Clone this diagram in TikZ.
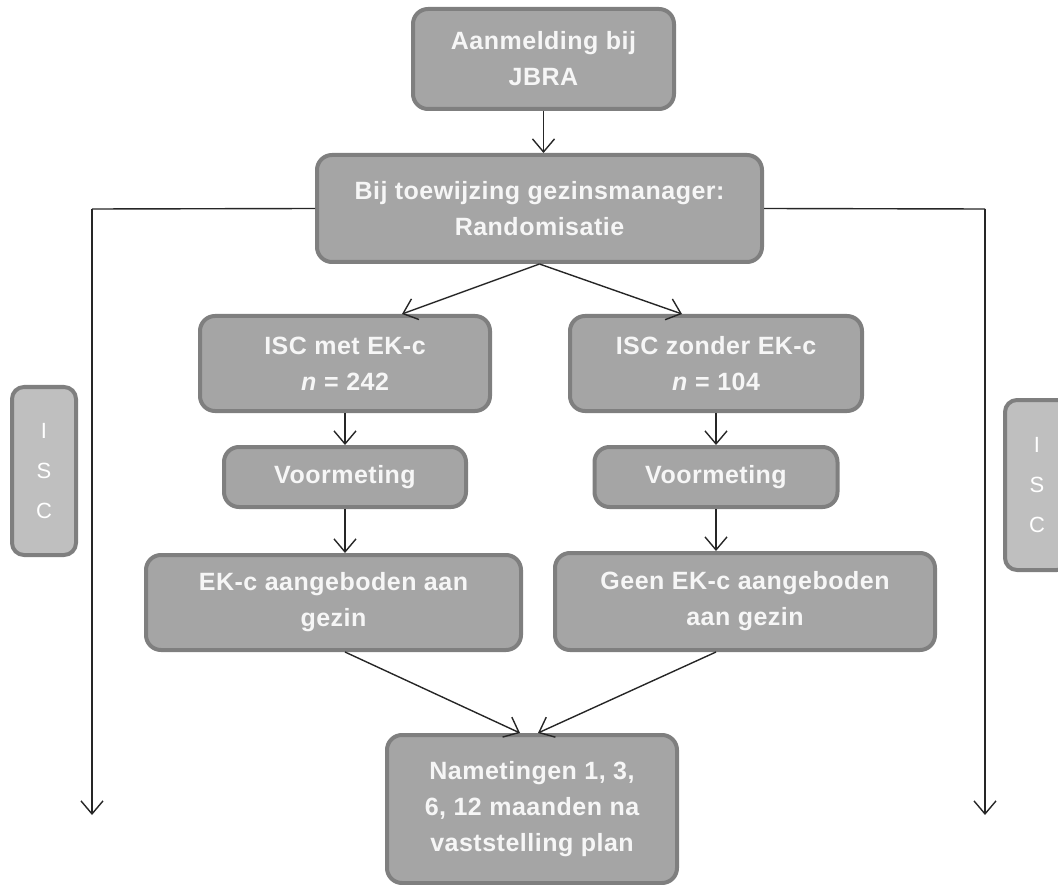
\documentclass[tikz,border=0pt]{standalone}
\usepackage{fontspec}
\setmainfont{Liberation Sans}[LetterSpace=2]
\usetikzlibrary{arrows.meta,calc}
\definecolor{boxfill}{HTML}{A5A5A5}
\definecolor{boxline}{HTML}{7F7F7F}
\definecolor{sidefill}{HTML}{BFBFBF}
\definecolor{txt}{HTML}{F6F6F6}
\begin{document}
\begin{tikzpicture}[x=1pt,y=-1pt,
  box/.style={draw=boxline,line width=4pt,fill=boxfill,rounded corners=15pt,
    text=txt,align=center,inner sep=0pt,
    font=\fontsize{25}{36}\selectfont\bfseries},
  sidebox/.style={draw=boxline,line width=4pt,fill=sidefill,rounded corners=12pt,
    text=white,align=center,inner sep=0pt,
    font=\fontsize{22}{40}\selectfont},
  conn/.style={line width=1.4pt,draw=black!85,
    -{Straight Barb[length=13pt,width=22pt,line width=1.4pt]}},
  plain/.style={line width=1.4pt,draw=black!85}]
\useasboundingbox (0,0) rectangle (1058,885);
\clip (0,0) rectangle (1058,885);
\node[box,minimum width=261pt,minimum height=100pt] (top) at (543.5,59) {Aanmelding bij\\JBRA};
\node[box,minimum width=445pt,minimum height=107pt] (rand) at (539.5,208.5) {Bij toewijzing gezinsmanager:\\Randomisatie};
\node[box,minimum width=290pt,minimum height=95pt] (iscmet) at (345,363.5) {ISC met EK-c\\\textit{n} = 242};
\node[box,minimum width=292pt,minimum height=95pt] (isczonder) at (716,363.5) {ISC zonder EK-c\\\textit{n} = 104};
\node[box,minimum width=242pt,minimum height=60pt] (voor1) at (345,477) {Voormeting};
\node[box,minimum width=243pt,minimum height=60pt] (voor2) at (716,477) {Voormeting};
\node[box,minimum width=375pt,minimum height=95pt] (ek1) at (333.5,602.5) {EK-c aangeboden aan\\gezin};
\node[box,minimum width=380pt,minimum height=97pt] (ek2) at (745,601.5) {Geen EK-c aangeboden\\aan gezin};
\node[box,minimum width=290pt,minimum height=148pt] (bottom) at (532,809) {Nametingen 1, 3,\\6, 12 maanden na\\vaststelling plan};
\node[sidebox,minimum width=64pt,minimum height=168pt] (sideL) at (44,471) {I\\S\\C};
\node[sidebox,minimum width=64pt,minimum height=170pt] (sideR) at (1037,485) {I\\S\\C};
\coordinate (lc) at (92,209);
\coordinate (le) at (92,815);
\coordinate (rc) at (985,209);
\coordinate (re) at (985,815);
\draw[conn] (top.south) -- (top.south |- rand.north);
\draw[plain] (rand.west) -- (lc);
\draw[conn] (lc) -- (le);
\draw[plain] (rand.east) -- (rc);
\draw[conn] (rc) -- (re);
\draw[conn] (rand.south) -- ([xshift=57pt]iscmet.north);
\draw[conn] (rand.south) -- ([xshift=-34pt]isczonder.north);
\draw[conn] (iscmet.south) -- (voor1.north);
\draw[conn] (isczonder.south) -- (voor2.north);
\draw[conn] (voor1.south) -- (voor1.south |- ek1.north);
\draw[conn] (voor2.south) -- (voor2.south |- ek2.north);
\draw[conn] (voor1.south |- ek1.south) -- ([xshift=-12pt]bottom.north);
\draw[conn] (voor2.south |- ek2.south) -- ([xshift=6pt]bottom.north);
\end{tikzpicture}
\end{document}
